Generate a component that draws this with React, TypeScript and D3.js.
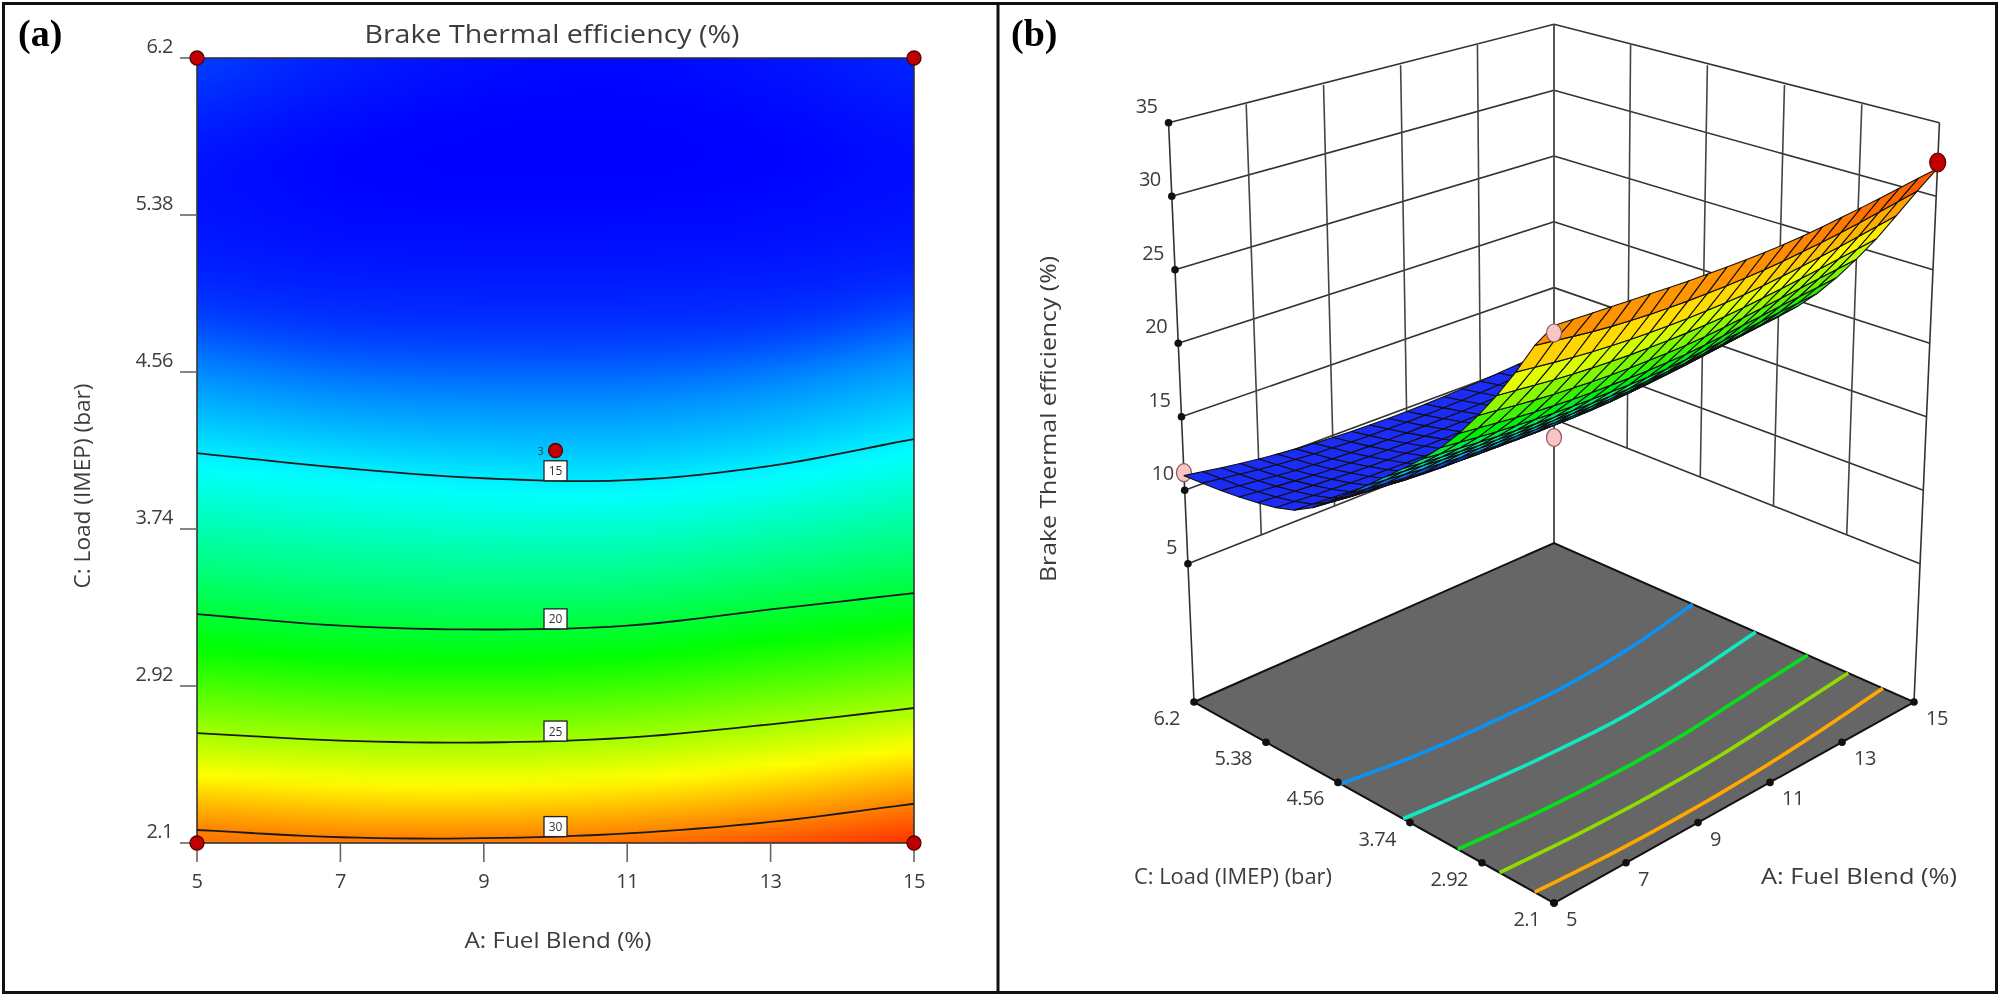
import React, { useMemo } from "react";
import * as d3 from "d3";

// ---------- data ----------
const blendTicks = [5, 7, 9, 11, 13, 15];
const loadTicks = [2.1, 2.92, 3.74, 4.56, 5.38, 6.2];
const efficiencyTicks = [5, 10, 15, 20, 25, 30, 35];

// load (C) at which a given efficiency occurs, per blendTicks
const load30 = [2.168, 2.13, 2.125, 2.15, 2.21, 2.305];
const load25 = [2.674, 2.635, 2.625, 2.65, 2.72, 2.805];
const load20 = [3.295, 3.235, 3.215, 3.235, 3.32, 3.405];
const load15 = [4.136, 4.06, 4.005, 3.995, 4.07, 4.21];
const load129 = [4.53, 4.43, 4.39, 4.39, 4.47, 4.62];
const load107 = [4.95, 4.85, 4.82, 4.82, 4.86, 5.0];
// efficiency along fixed load rows, per blendTicks
const effAtLoad21 = [30.3, 30.3, 30.3, 30.5, 31.1, 31.9];
const effAtLoad56 = [10.0, 9.7, 9.6, 9.6, 9.7, 9.9];
const effAtLoad62 = [11.0, 10.3, 9.9, 9.8, 10.0, 10.4];
const mapLevels = [30, 25, 20, 15, 12.9, 10.7];
// the 3-D surface as it reads against its own axis
const surfaceLevels = [30, 25.2, 20.5, 16.0, 14.0, 12.2];
const surfaceAtLoad56 = [11.3, 10.9, 10.7, 10.7, 10.8, 11.1];

const colourStops = [9.6, 15.4, 21.25, 27.1, 33];
const colourNames = ["#0000ff", "#00ffff", "#00ff00", "#ffff00", "#ff0000"];
const surfaceStops = [14.6, 16.8, 20.8, 26.3, 33];
const surfaceNames = ["#1a2cf5", "#00e8c8", "#00f000", "#ffff00", "#ff1000"];

const floorLevels = [12.9, 16.8, 20.7, 24.6, 28.5];
const floorColours = ["#0a93f5", "#10e8c0", "#06e01a", "#8fdc00", "#ffa800"];

const cornerPoints = [
  { A: 5, C: 6.2 },
  { A: 15, C: 6.2 },
  { A: 5, C: 2.1 },
  { A: 15, C: 2.1 },
];
const centrePoint = { A: 10, C: 4.15, replicates: "3" };
// design points in the 3-D view
const pinkBelow = [
  { A: 5, C: 6.2, z: 11.2 },
  { A: 10, C: 4.15, z: 14.3 },
  { A: 15, C: 6.2, z: 9.5 },
];
const pinkAbove = [{ A: 5, C: 2.1, z: 29.85 }];
const redPoints = [{ A: 15, C: 2.1, z: 32.3 }];

// ---------- field ----------
function hermite(xs: number[], ys: number[], x: number): number {
  const n = xs.length;
  let i = d3.bisectRight(xs, x) - 1;
  i = Math.max(0, Math.min(n - 2, i));
  const h = xs[i + 1] - xs[i];
  const t = (x - xs[i]) / h;
  const m = (k: number) => {
    if (k === 0) return (ys[1] - ys[0]) / (xs[1] - xs[0]);
    if (k === n - 1) return (ys[n - 1] - ys[n - 2]) / (xs[n - 1] - xs[n - 2]);
    return (ys[k + 1] - ys[k - 1]) / (xs[k + 1] - xs[k - 1]);
  };
  const t2 = t * t, t3 = t2 * t;
  return (
    (2 * t3 - 3 * t2 + 1) * ys[i] +
    (t3 - 2 * t2 + t) * h * m(i) +
    (-2 * t3 + 3 * t2) * ys[i + 1] +
    (t3 - t2) * h * m(i + 1)
  );
}
const at = (row: number[], A: number) => hermite(blendTicks, row, A);
const loadsAt = (A: number) => [2.1, at(load30, A), at(load25, A), at(load20, A), at(load15, A), at(load129, A), at(load107, A), 5.6, 6.2];

function efficiency(A: number, C: number): number {
  const zs = [at(effAtLoad21, A), ...mapLevels, at(effAtLoad56, A), at(effAtLoad62, A)];
  return hermite(loadsAt(A), zs, C);
}
function surfaceHeight(A: number, C: number): number {
  const zs = [at(effAtLoad21, A), ...surfaceLevels, at(surfaceAtLoad56, A), at(effAtLoad62, A)];
  return hermite(loadsAt(A), zs, C);
}
function loadForLevel(A: number, level: number): number {
  let lo = 2.1, hi = 5.5;
  for (let k = 0; k < 30; k++) {
    const mid = (lo + hi) / 2;
    if (efficiency(A, mid) > level) lo = mid;
    else hi = mid;
  }
  return (lo + hi) / 2;
}

const colour = d3.scaleLinear<string>().domain(colourStops).range(colourNames).interpolate(d3.interpolateRgb).clamp(true);
const surfaceColour = d3.scaleLinear<string>().domain(surfaceStops).range(surfaceNames).interpolate(d3.interpolateRgb).clamp(true);

// ---------- panel (a) scales ----------
const xA = d3.scaleLinear().domain([5, 15]).range([197, 914]);
const yA = d3.scaleLinear().domain([2.1, 6.2]).range([843, 58]);

// ---------- panel (b) projection ----------
const uOf = d3.scaleLinear().domain([5, 15]).range([0, 1]);
const vOf = d3.scaleLinear().domain([6.2, 2.1]).range([0, 1]);
const FLOOR_Z = -4.4, UNIT = 14.7, VP_X = 1554, VP_Y = 8900;
const quad = { L: [1194, 702], B: [1554, 543], R: [1914, 702], F: [1554, 903] };
function project(A: number, C: number, z: number | null): [number, number] {
  const u = uOf(A), v = vOf(C);
  const blend = (k: 0 | 1) =>
    quad.L[k] * (1 - u) * (1 - v) + quad.B[k] * u * (1 - v) + quad.R[k] * u * v + quad.F[k] * (1 - u) * v;
  const x = blend(0), y = blend(1);
  if (z === null) return [x, y];
  const w = 1 + 0.1167 * u - 0.1167 * v;
  const ht = ((z - FLOOR_Z) * UNIT) / w;
  return [x + ((x - VP_X) * ht) / (VP_Y - y), y - ht];
}
const pathOf = d3.line<[number, number]>();
const seg = (a: [number, number], b: [number, number]) => pathOf([a, b]) as string;

const INK = "#3c3c3c";
const FONT = "'Open Sans', sans-serif";

function ContourPanel() {
  const columns = useMemo(() => d3.range(197, 914, 3), []);
  const rows = useMemo(() => d3.range(0, 1.0001, 1 / 70), []);
  const contours: [number, number[]][] = [[15, load15], [20, load20], [25, load25], [30, load30]];
  const samples = d3.range(5, 15.01, 0.25);
  return (
    <g>
      <defs>
        {columns.map((px, i) => {
          const A = xA.invert(px + 1.5);
          return (
            <linearGradient key={i} id={`col${i}`} x1="0" x2="0" y1="0" y2="1">
              {rows.map((t) => (
                <stop key={t} offset={t} stopColor={colour(efficiency(A, 6.2 - t * 4.1))} />
              ))}
            </linearGradient>
          );
        })}
      </defs>
      {columns.map((px, i) => (
        <rect key={i} x={px} y={58} width={Math.min(3.5, 914 - px)} height={785} fill={`url(#col${i})`} />
      ))}
      <rect x={197} y={58} width={717} height={785} fill="none" stroke="#333" strokeWidth={1.6} />
      {contours.map(([lvl, row]) => (
        <path
          key={lvl}
          d={d3.line<number>().x((a) => xA(a)).y((a) => yA(at(row, a)))(samples) as string}
          fill="none"
          stroke="#1a1a1a"
          strokeWidth={1.8}
        />
      ))}
      {contours.map(([lvl, row]) => {
        const cy = yA(at(row, 10));
        return (
          <g key={lvl}>
            <rect x={xA(10) - 11.5} y={cy - 20} width={23} height={20} fill="#fff" stroke="#222" strokeWidth={1.3} />
            <text x={xA(10)} y={cy - 5.5} textAnchor="middle" fontSize={12} fill="#333" fontFamily={FONT}>{lvl}</text>
          </g>
        );
      })}
      {blendTicks.map((t) => (
        <g key={t}>
          <line x1={xA(t)} x2={xA(t)} y1={843} y2={862} stroke="#666" strokeWidth={1.6} />
          <text x={xA(t)} y={888} textAnchor="middle" fontSize={20} letterSpacing={-0.5} fill={INK} fontFamily={FONT}>{t}</text>
        </g>
      ))}
      {loadTicks.map((t) => (
        <g key={t}>
          <line x1={180} x2={197} y1={yA(t)} y2={yA(t)} stroke="#666" strokeWidth={1.6} />
          <text x={173} y={yA(t) - 5} textAnchor="end" fontSize={20} letterSpacing={-0.5} fill={INK} fontFamily={FONT}>{t}</text>
        </g>
      ))}
      {cornerPoints.map((p, i) => (
        <circle key={i} cx={xA(p.A)} cy={yA(p.C)} r={7} fill="#c00000" stroke="#5a0000" strokeWidth={1.3} />
      ))}
      <circle cx={xA(centrePoint.A)} cy={yA(centrePoint.C)} r={7} fill="#c00000" stroke="#5a0000" strokeWidth={1.3} />
      <text x={xA(centrePoint.A) - 12} y={yA(centrePoint.C) + 4} textAnchor="end" fontSize={10} fill="#333" fontFamily={FONT}>{centrePoint.replicates}</text>
      <text x={552} y={43} textAnchor="middle" fontSize={25} fill={INK} fontFamily={FONT} textLength={375} lengthAdjust="spacingAndGlyphs">Brake Thermal efficiency (%)</text>
      <text x={558} y={948} textAnchor="middle" fontSize={21} fill={INK} fontFamily={FONT} textLength={187} lengthAdjust="spacingAndGlyphs">A: Fuel Blend (%)</text>
      <text transform="translate(90,486) rotate(-90)" textAnchor="middle" fontSize={21} fill={INK} fontFamily={FONT} textLength={205} lengthAdjust="spacingAndGlyphs">C: Load (IMEP) (bar)</text>
    </g>
  );
}

function SurfacePanel() {
  const gridA = d3.range(0, 21).map((i) => 5 + i * 0.5);
  const gridC = d3.range(0, 21).map((i) => 6.2 - (i * 4.1) / 20);
  const quads = useMemo(() => {
    const out: { d: string; fill: string; key: string }[] = [];
    for (let ia = 19; ia >= 0; ia--) {
      for (let ic = 0; ic < 20; ic++) {
        const a0 = gridA[ia], a1 = gridA[ia + 1], c0 = gridC[ic], c1 = gridC[ic + 1];
        const cs: [number, number][] = [[a0, c0], [a1, c0], [a1, c1], [a0, c1]];
        const pts = cs.map(([a, c]) => project(a, c, surfaceHeight(a, c)));
        const zm = d3.mean(cs, ([a, c]) => surfaceHeight(a, c)) as number;
        out.push({ d: (pathOf(pts) as string) + "Z", fill: surfaceColour(zm), key: `${ia}-${ic}` });
      }
    }
    return out;
  }, []);
  const floorPts = [project(5, 6.2, null), project(15, 6.2, null), project(15, 2.1, null), project(5, 2.1, null)];
  const fineA = d3.range(5, 15.01, 0.5);
  const pink = (p: { A: number; C: number; z: number }, key: number) => {
    const [x, y] = project(p.A, p.C, p.z);
    return <ellipse key={key} cx={x} cy={y} rx={7.5} ry={9} fill="#f8c4c4" stroke="#8a5a5a" strokeWidth={1.2} />;
  };
  return (
    <g>
      {/* walls */}
      {efficiencyTicks.map((z) => (
        <g key={z}>
          <path d={seg(project(5, 6.2, z), project(15, 6.2, z))} stroke="#333" strokeWidth={1.6} fill="none" />
          <path d={seg(project(15, 6.2, z), project(15, 2.1, z))} stroke="#333" strokeWidth={1.6} fill="none" />
        </g>
      ))}
      {blendTicks.slice(1, -1).map((a) => (
        <path key={a} d={seg(project(a, 6.2, 5), project(a, 6.2, 35))} stroke="#444" strokeWidth={1.6} fill="none" />
      ))}
      {loadTicks.slice(1, -1).map((c) => (
        <path key={c} d={seg(project(15, c, 5), project(15, c, 35))} stroke="#444" strokeWidth={1.6} fill="none" />
      ))}
      <path d={seg(project(5, 6.2, FLOOR_Z), project(5, 6.2, 35))} stroke="#333" strokeWidth={1.6} fill="none" />
      <path d={seg(project(15, 6.2, FLOOR_Z), project(15, 6.2, 35))} stroke="#444" strokeWidth={1.8} fill="none" />
      <path d={seg(project(15, 2.1, FLOOR_Z), project(15, 2.1, 35))} stroke="#333" strokeWidth={1.6} fill="none" />
      {/* floor */}
      <path d={(pathOf(floorPts) as string) + "Z"} fill="#666666" stroke="#111" strokeWidth={2} />
      {floorLevels.map((lvl, i) => (
        <path
          key={lvl}
          d={pathOf(fineA.map((a) => project(a, loadForLevel(a, lvl), null))) as string}
          fill="none"
          stroke={floorColours[i]}
          strokeWidth={3.6}
        />
      ))}
      {/* tick dots and labels */}
      {efficiencyTicks.map((z) => {
        const [x, y] = project(5, 6.2, z);
        return (
          <g key={z}>
            <circle cx={x} cy={y} r={3.8} fill="#111" />
            <text x={x - 11} y={y - 10} textAnchor="end" fontSize={20} letterSpacing={-0.5} fill={INK} fontFamily={FONT}>{z}</text>
          </g>
        );
      })}
      {loadTicks.map((c) => {
        const [x, y] = project(5, c, null);
        return (
          <g key={c}>
            <circle cx={x} cy={y} r={3.8} fill="#111" />
            <text x={x - 14} y={y + 23} textAnchor="end" fontSize={20} letterSpacing={-0.5} fill={INK} fontFamily={FONT}>{c}</text>
          </g>
        );
      })}
      {blendTicks.map((a) => {
        const [x, y] = project(a, 2.1, null);
        return (
          <g key={a}>
            <circle cx={x} cy={y} r={3.8} fill="#111" />
            <text x={x + 12} y={y + 23} textAnchor="start" fontSize={20} letterSpacing={-0.5} fill={INK} fontFamily={FONT}>{a}</text>
          </g>
        );
      })}
      {/* design points under the surface */}
      {pinkBelow.map(pink)}
      {/* surface */}
      {quads.map((q) => (
        <path key={q.key} d={q.d} fill={q.fill} stroke="#101010" strokeWidth={1.1} strokeLinejoin="round" />
      ))}
      {pinkAbove.map(pink)}
      {redPoints.map((p, i) => {
        const [x, y] = project(p.A, p.C, p.z);
        return <ellipse key={i} cx={x} cy={y} rx={8} ry={9.5} fill="#c00000" stroke="#5a0000" strokeWidth={1.2} />;
      })}
      <text x={1233} y={884} textAnchor="middle" fontSize={21} fill={INK} fontFamily={FONT} textLength={198} lengthAdjust="spacingAndGlyphs">C: Load (IMEP) (bar)</text>
      <text x={1859} y={884} textAnchor="middle" fontSize={21} fill={INK} fontFamily={FONT} textLength={196} lengthAdjust="spacingAndGlyphs">A: Fuel Blend (%)</text>
      <text transform="translate(1056,419) rotate(-90)" textAnchor="middle" fontSize={22} fill={INK} fontFamily={FONT} textLength={326} lengthAdjust="spacingAndGlyphs">Brake Thermal efficiency (%)</text>
    </g>
  );
}

export default function App() {
  return (
    <svg width={2000} height={997} viewBox="0 0 2000 997" style={{ position: "absolute", left: 0, top: 0, background: "#fff", filter: "blur(0.5px)" }}>
      <rect x={3.5} y={3.5} width={1993} height={989} fill="#fff" stroke="#111" strokeWidth={3} />
      <line x1={998} x2={998} y1={3} y2={993} stroke="#111" strokeWidth={3} />
      <text x={18} y={46} fontSize={38} fontWeight="bold" fontFamily="'Liberation Serif', serif" fill="#000">(a)</text>
      <text x={1011} y={46} fontSize={38} fontWeight="bold" fontFamily="'Liberation Serif', serif" fill="#000">(b)</text>
      <ContourPanel />
      <SurfacePanel />
    </svg>
  );
}
